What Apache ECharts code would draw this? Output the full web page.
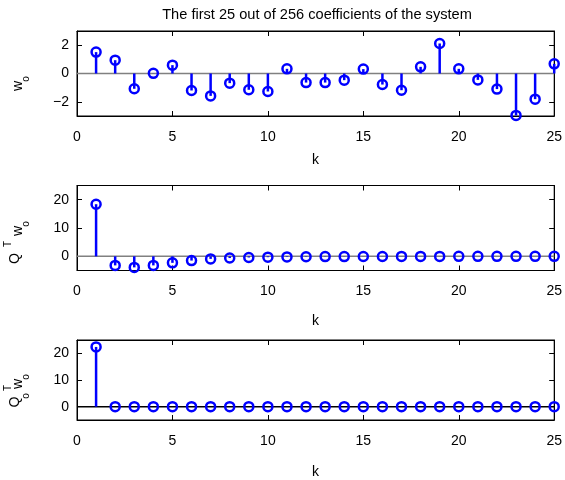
<!DOCTYPE html>
<html><head><meta charset="utf-8">
<script src="https://cdn.jsdelivr.net/npm/echarts@6/dist/echarts.min.js"></script>
<style>html,body{margin:0;padding:0;background:#fff}#c{width:565px;height:480px}</style>
</head><body><div id="c"></div>
<script>
const k = [1,2,3,4,5,6,7,8,9,10,11,12,13,14,15,16,17,18,19,20,21,22,23,24,25];
const wo = [1.51,0.94,-1.08,0.01,0.59,-1.2,-1.58,-0.68,-1.15,-1.27,0.33,-0.64,-0.64,-0.47,0.31,-0.78,-1.18,0.47,2.12,0.33,-0.45,-1.1,-2.96,-1.81,0.68];
const qtwo = [18.4,-3.2,-3.9,-3.2,-2.3,-1.5,-0.9,-0.6,-0.4,-0.3,-0.2,-0.15,-0.1,-0.08,-0.05,-0.04,-0.03,-0.02,-0.02,-0.01,-0.01,-0.01,0,0,0];
const qotwo = [22.4,0,0,0,0,0,0,0,0,0,0,0,0,0,0,0,0,0,0,0,0,0,0,0,0];
const xTicks = [0,5,10,15,20,25];
const yTicks1 = [-2,0,2];
const yTicks23 = [0,10,20];
const title = 'The first 25 out of 256 coefficients of the system';

const FONT = "'Liberation Sans', Arial, sans-serif";
const BLUE = '#0000ff';
const panels = [
  {data: wo, min: -3, max: 3, ticks: yTicks1, top: 31, base: '#808080', nameGap: 37},
  {data: qtwo, min: -5, max: 25, ticks: yTicks23, top: 185.5, base: '#808080', nameGap: 44},
  {data: qotwo, min: -5, max: 25, ticks: yTicks23, top: 340, base: '#000000', nameGap: 45}
];
const fmt = v => (v < 0 ? '\u2212' + Math.abs(v) : String(v));
const grid = [], xAxis = [], yAxis = [], series = [];
panels.forEach((p, i) => {
  grid.push({left: 77, right: 9, top: p.top, height: 85, containLabel: false,
    show: true, borderColor: '#000', borderWidth: 1, backgroundColor: 'transparent'});
  const axLine = {show: true, onZero: false, lineStyle: {color: '#000', width: 1}};
  const tick = {show: true, inside: true, length: 5, lineStyle: {color: '#000', width: 1}};
  xAxis.push({type: 'value', gridIndex: i, min: 0, max: 25, interval: 5, position: 'bottom',
    axisLine: axLine, axisTick: Object.assign({customValues: xTicks}, tick), splitLine: {show: false},
    axisLabel: {customValues: xTicks, fontFamily: FONT, fontSize: 14, color: '#000', margin: 14},
    name: 'k', nameLocation: 'middle', nameGap: p.nameGap,
    nameTextStyle: {fontFamily: FONT, fontSize: 14, color: '#000'}});
  xAxis.push({type: 'value', gridIndex: i, min: 0, max: 25, interval: 5, position: 'top',
    axisLine: axLine, axisTick: Object.assign({customValues: xTicks}, tick), splitLine: {show: false}, axisLabel: {show: false}});
  yAxis.push({type: 'value', gridIndex: i, min: p.min, max: p.max, position: 'left',
    axisLine: axLine, axisTick: Object.assign({customValues: p.ticks}, tick), splitLine: {show: false},
    axisLabel: {customValues: p.ticks, formatter: fmt, fontFamily: FONT, fontSize: 14, color: '#000', margin: 8}});
  yAxis.push({type: 'value', gridIndex: i, min: p.min, max: p.max, position: 'right',
    axisLine: axLine, axisTick: Object.assign({customValues: p.ticks}, tick), splitLine: {show: false},
    axisLabel: {show: false}});
  const pts = k.map((x, j) => [x, p.data[j]]);
  series.push({type: 'line', xAxisIndex: 2*i, yAxisIndex: 2*i, data: [[0,0],[25,0]], symbol: 'none',
    lineStyle: {color: p.base, width: 1.5}, z: 1, silent: true, animation: false});
  series.push({type: 'custom', xAxisIndex: 2*i, yAxisIndex: 2*i, data: pts, z: 2, animation: false,
    renderItem: (params, api) => {
      const a = api.coord([api.value(0), 0]);
      const b = api.coord([api.value(0), api.value(1)]);
      return {type: 'line', shape: {x1: a[0], y1: a[1], x2: b[0], y2: b[1]},
        style: {stroke: BLUE, lineWidth: 2.5}};
    }});
  series.push({type: 'scatter', xAxisIndex: 2*i, yAxisIndex: 2*i, data: pts, z: 3, animation: false,
    symbol: 'circle', symbolSize: 9, clip: false,
    itemStyle: {color: 'rgba(0,0,0,0)', borderColor: BLUE, borderWidth: 2.5, opacity: 1}});
  series.push({type: 'scatter', xAxisIndex: 2*i+1, yAxisIndex: 2*i+1, data: [], silent: true});
});
const txt = (s, x, y, size) => ({type: 'text', x: x, y: y, rotation: Math.PI/2,
  style: {text: s, fontFamily: FONT, fontSize: size, fill: '#000', align: 'center', verticalAlign: 'middle'}});
const graphic = [
  {type: 'text', x: 317, y: 15, style: {text: title, fontFamily: FONT, fontSize: 14.6, fill: '#000', align: 'center', verticalAlign: 'middle'}},
  txt('w', 18, 86, 14), txt('o', 26, 79, 10),
  txt('Q', 15.5, 258.5, 14), txt('T', 8.7, 244, 10), txt('w', 18, 231, 14), txt('o', 26, 224, 10),
  txt('Q', 15.5, 402, 14), txt('T', 8.7, 388, 10), txt('o', 26, 396, 10), txt('w', 18, 384, 14), txt('o', 26, 377, 10)
];
const chart = echarts.init(document.getElementById('c'), null, {renderer: 'canvas'});
chart.setOption({
  animation: false,
  backgroundColor: '#fff',
  grid, xAxis, yAxis, series, graphic
});
</script></body></html>
